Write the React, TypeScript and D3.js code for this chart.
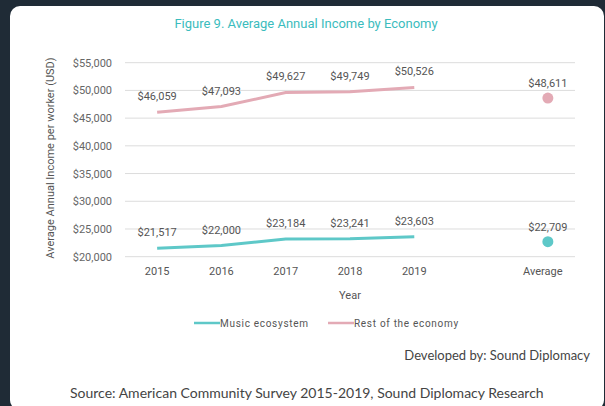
import React from "react";
import * as d3 from "d3";

const categories = ["2015", "2016", "2017", "2018", "2019", "gap", "Average"];
const years = ["2015", "2016", "2017", "2018", "2019"];
const musicValues = [21517, 22000, 23184, 23241, 23603];
const restValues = [46059, 47093, 49627, 49749, 50526];
const musicAverage = 22709;
const restAverage = 48611;
const yTicks = [20000, 25000, 30000, 35000, 40000, 45000, 50000, 55000];
const seriesNames = ["Music ecosystem", "Rest of the economy"];

const W = 605;
const H = 406;
const TEAL = "#5ec8c8";
const PINK = "#e3aab5";

export default function App() {
  const x = d3.scaleBand<string>().domain(categories).range([125, 575]).paddingInner(0).paddingOuter(0);
  const cx = (c: string) => (x(c) as number) + x.bandwidth() / 2;
  const y = d3.scaleLinear().domain([20000, 55000]).range([256.7, 62.7]);
  const fmt = (v: number) => "$" + d3.format(",")(v);
  const tickFmt = (v: number) => "$" + d3.format(",")(v);
  const line = d3
    .line<number>()
    .x((_, i) => cx(years[i]))
    .y((d) => y(d));
  const avgOffset = 5;
  const chartFont = "Roboto, 'DejaVu Sans', sans-serif";
  const footFont = "Lato, 'Open Sans', sans-serif";

  const series = [
    { name: seriesNames[0], values: musicValues, avg: musicAverage, color: TEAL },
    { name: seriesNames[1], values: restValues, avg: restAverage, color: PINK },
  ];

  return (
    <svg
      width={W}
      height={H}
      style={{ position: "absolute", left: 0, top: 0, display: "block" }}
    >
      <rect x={0} y={0} width={W} height={H} fill="#1f2b36" />
      <rect x={10} y={6} width={594} height={404} rx={10} ry={10} fill="#ffffff" />
      <text
        x={306}
        y={28}
        textAnchor="middle"
        fontFamily={chartFont}
        fontSize={13}
        fill="#3bbcbd"
      >
        Figure 9. Average Annual Income by Economy
      </text>

      {yTicks.map((t) => (
        <g key={t}>
          <line x1={125} x2={575} y1={y(t)} y2={y(t)} stroke="#dcdcdc" strokeWidth={1} />
          <text
            x={112}
            y={y(t) + 4}
            textAnchor="end"
            fontFamily={chartFont}
            fontSize={11}
            fill="#666"
          >
            {tickFmt(t)}
          </text>
        </g>
      ))}

      <text
        transform={`translate(50,158) rotate(-90)`}
        textAnchor="middle"
        dominantBaseline="central"
        fontFamily={chartFont}
        fontSize={11}
        fill="#555"
      >
        Average Annual Income per worker (USD)
      </text>

      {categories
        .filter((c) => c !== "gap")
        .map((c) => (
          <text
            key={c}
            x={cx(c)}
            y={275}
            textAnchor="middle"
            fontFamily={chartFont}
            fontSize={11}
            fill="#555"
          >
            {c}
          </text>
        ))}
      <text x={350} y={299} textAnchor="middle" fontFamily={chartFont} fontSize={11} fill="#555">
        Year
      </text>

      {series.map((s) => (
        <g key={s.name}>
          <path d={line(s.values) || ""} fill="none" stroke={s.color} strokeWidth={3} />
          {s.values.map((v, i) => (
            <text
              key={i}
              x={cx(years[i])}
              y={y(v) - 12}
              textAnchor="middle"
              fontFamily={chartFont}
              fontSize={11}
              fill="#555"
            >
              {fmt(v)}
            </text>
          ))}
          <circle cx={cx("Average") + avgOffset} cy={y(s.avg)} r={5.5} fill={s.color} />
          <text
            x={cx("Average") + avgOffset}
            y={y(s.avg) - 11}
            textAnchor="middle"
            fontFamily={chartFont}
            fontSize={11}
            fill="#555"
          >
            {fmt(s.avg)}
          </text>
        </g>
      ))}

      {series.map((s, i) => {
        const lx = i === 0 ? 194 : 328;
        return (
          <g key={s.name}>
            <line x1={lx} x2={lx + 26} y1={323} y2={323} stroke={s.color} strokeWidth={2.5} />
            <text
              x={lx + 26}
              y={326.5}
              fontFamily={chartFont}
              fontSize={10}
              letterSpacing={0.7}
              fill="#555"
            >
              {s.name}
            </text>
          </g>
        );
      })}

      <text x={590} y={359.5} textAnchor="end" fontFamily={footFont} fontSize={13} fill="#444">
        Developed by: Sound Diplomacy
      </text>
      <text x={70} y={398} fontFamily={footFont} fontSize={14} fill="#444">
        Source: American Community Survey 2015-2019, Sound Diplomacy Research
      </text>
    </svg>
  );
}
